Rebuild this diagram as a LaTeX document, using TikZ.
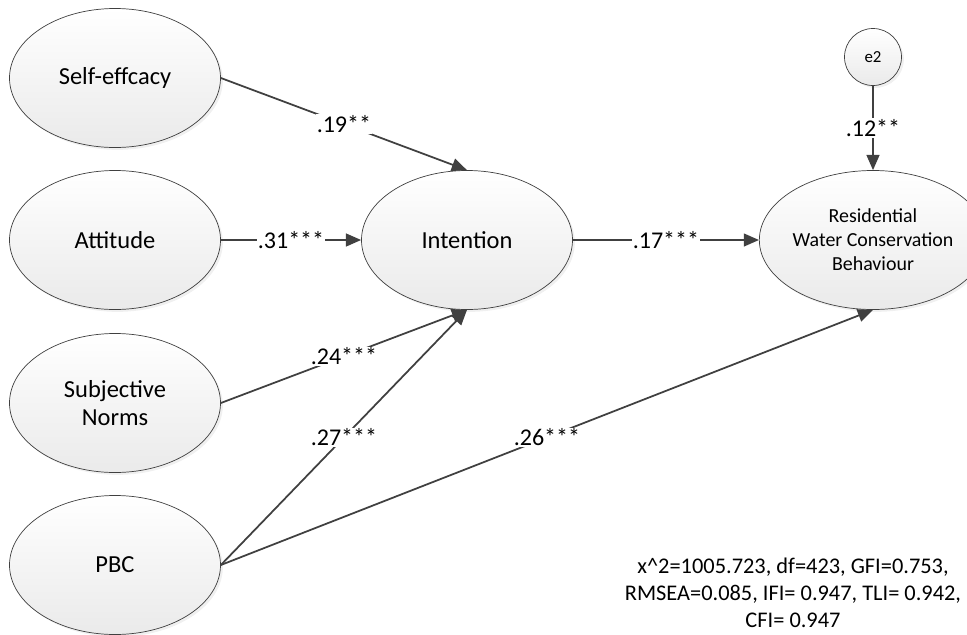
\documentclass[tikz,border=0pt]{standalone}
\usepackage{fontspec}
\setmainfont{Carlito}
\usetikzlibrary{shapes.geometric, shadows, arrows.meta}
\definecolor{semLine}{HTML}{404040}
\definecolor{semFill}{HTML}{EAEAEA}

\begin{document}
\begin{tikzpicture}[x=0.03cm, y=-0.03cm,
    latent/.style={ellipse, draw=semLine, line width=0.6pt, top color=white, bottom color=semFill,
        minimum width=6.33cm, minimum height=4.17cm, inner sep=0pt, align=center,
        font=\fontsize{20.9}{24}\selectfont,
        drop shadow={opacity=0.12, shadow xshift=2pt, shadow yshift=-2pt}},
    effect/.style={-{Triangle[length=13pt, width=11pt]}, semLine, line width=1.5pt},
    coef/.style={fill=white, text=black, inner sep=1pt, font=\fontsize{20.5}{22}\selectfont}]
    \useasboundingbox (0, 0) rectangle (967, 634);

    \node[latent] (self) at (115, 78) {Self-effcacy};
    \node[latent] (att) at (115, 240) {Attitude};
    \node[latent] (subj) at (115, 403) {Subjective\\Norms};
    \node[latent] (pbc) at (115, 565) {PBC};
    \node[latent] (int) at (467, 240) {Intention};
    \node[latent, font=\fontsize{17}{20.4}\selectfont] (beh) at (873, 240) {Residential\\Water Conservation\\Behaviour};
    \node[latent, circle, minimum size=1.71cm, font=\fontsize{14.4}{16}\selectfont] (e2) at (873, 57) {e2};

    \draw[effect] (self.east) -- node[coef]{.19**} (int.north);
    \draw[effect] (att.east) -- node[coef]{.31***} (int.west);
    \draw[effect] (subj.east) -- node[coef]{.24***} (int.south);
    \draw[effect] (pbc.east) -- node[coef]{.27***} (int.south);
    \draw[effect] (pbc.east) -- node[coef]{.26***} (beh.south);
    \draw[effect] (int.east) -- node[coef]{.17***} (beh.west);
    \draw[effect] (e2.south) -- node[coef]{.12**} (beh.north);

    \node[align=center, font=\fontsize{19.1}{23}\selectfont] (fit) at (793, 593) {x\^{}2=1005.723, df=423, GFI=0.753,\\RMSEA=0.085, IFI= 0.947, TLI= 0.942,\\CFI= 0.947};
\end{tikzpicture}
\end{document}
